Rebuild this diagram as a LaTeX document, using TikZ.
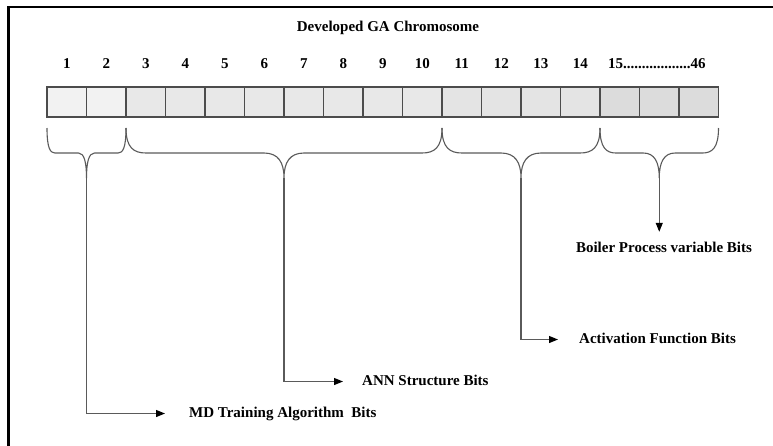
\documentclass[tikz,border=0pt]{standalone}
\usepackage{fontspec}
\setmainfont{Liberation Serif}
\usetikzlibrary{positioning,calc,arrows.meta}

\definecolor{bitA}{HTML}{F2F2F2}
\definecolor{bitB}{HTML}{E8E8E8}
\definecolor{bitC}{HTML}{E4E4E4}
\definecolor{bitD}{HTML}{DCDCDC}
\definecolor{wire}{HTML}{5A5A5A}

% curly brace under a group of cells: left anchor, right anchor, corner size, name of the tip
\newcommand{\genebrace}[4]{%
  \draw[bracket] ($(#1)+(0,11)$)
    .. controls +(0,20) and +(-0.6*#3,0) .. ($(#1)+(#3,36)$)
    -- ($(#1)!0.5!(#2)+(-#3,36)$)
    .. controls +(0.7*#3,0) and +(0,-16) .. ($(#1)!0.5!(#2)+(0,61)$) coordinate (#4)
    .. controls +(0,-16) and +(-0.7*#3,0) .. ($(#1)!0.5!(#2)+(#3,36)$)
    -- ($(#2)+(-#3,36)$)
    .. controls +(0.6*#3,0) and +(0,20) .. ($(#2)+(0,11)$);
}

\begin{document}
\begin{tikzpicture}[
    x=1pt, y=-1pt,
    cell/.style={rectangle, draw=black!70, line width=1.1pt, minimum width=39.5pt, minimum height=30pt, inner sep=0pt, outer sep=0pt},
    num/.style={font=\fontsize{15}{18}\selectfont\bfseries, inner sep=0pt, anchor=base},
    lbl/.style={font=\fontsize{15}{18}\selectfont\bfseries, inner sep=0pt, text height=10pt, text depth=3pt},
    bracket/.style={draw=wire, line width=1.1pt},
    conn/.style={draw=wire, line width=1.1pt, -{Triangle[length=9pt,width=7pt,color=black]}}
  ]
    \useasboundingbox (0,0) rectangle (773,445);

    % Frame
    \draw[line width=2.7pt] (8.5,446) -- (8.5,7) -- (774,7);

    % Title
    \node[num] (title) at (388,31) {Developed GA Chromosome};

    % Chromosome cells
    \node[cell, fill=bitA, anchor=north west] (c1) at (47,87) {};
    \foreach \i/\p/\f in {2/1/bitA, 3/2/bitB, 4/3/bitB, 5/4/bitB, 6/5/bitB, 7/6/bitB, 8/7/bitB,
                          9/8/bitB, 10/9/bitB, 11/10/bitC, 12/11/bitC, 13/12/bitC, 14/13/bitC,
                          15/14/bitD, 16/15/bitD, 17/16/bitD}
      \node[cell, fill=\f, right=0pt of c\p] (c\i) {};

    % Bit numbers
    \foreach \i in {1,...,14}
      \node[num] (n\i) at ($(c\i.north)+(0,-19)$) {\i};
    \node[num, anchor=base west] (nlast) at ($(c15.north west)+(8,-19)$) {15..................46};

    % Braces
    \genebrace{c1.south west}{c2.south east}{8}{bmd}
    \genebrace{c3.south west}{c10.south east}{20}{bann}
    \genebrace{c11.south west}{c14.south east}{20}{bact}
    \genebrace{c15.south west}{c17.south east}{16}{bbp}

    % Labels
    \node[lbl, anchor=base west] (md) at (189,417) {MD Training Algorithm\ \ Bits};
    \node[lbl, anchor=base west] (ann) at (362,385) {ANN Structure Bits};
    \node[lbl, anchor=base west] (act) at (579,343) {Activation Function Bits};
    \node[lbl, anchor=base] (bp) at (664,252) {Boiler Process variable Bits};

    % Arrows
    \draw[conn, shorten >=24pt] (bmd) |- (md);
    \draw[conn, shorten >=19pt] (bann) |- (ann);
    \draw[conn, shorten >=21pt] (bact) |- (act);
    \draw[conn, shorten >=10pt] (bbp) -- (bbp |- bp.north);
\end{tikzpicture}
\end{document}
